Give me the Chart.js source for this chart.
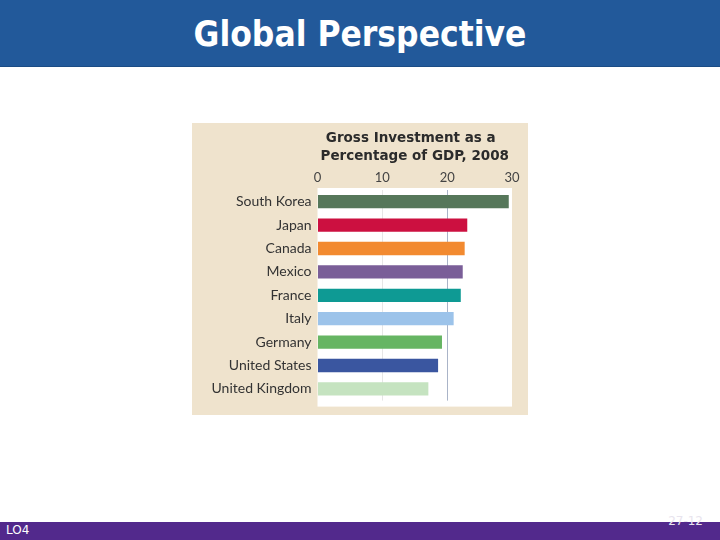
<!DOCTYPE html>
<html>
<head>
<meta charset="utf-8">
<script src="https://cdn.jsdelivr.net/npm/chart.js@4/dist/chart.umd.min.js"></script>
<style>
  html, body { margin: 0; padding: 0; width: 720px; height: 540px; background: #ffffff; overflow: hidden; }
  #header { position: absolute; left: 0; top: 0; width: 720px; height: 66px; background: #22599a; border-bottom: 1px solid #1b4c85; }
  #header h1 { margin: 0; position: absolute; left: 0; width: 720px; top: 13px; text-align: center;
    font-family: "DejaVu Sans Condensed", "DejaVu Sans", sans-serif; font-weight: bold; font-size: 35px; line-height: 42px; color: #ffffff; }
  #footer { position: absolute; left: 0; top: 522px; width: 720px; height: 18px; background: #52298c; }
  #lo { position: absolute; left: 6px; top: 523px; font-family: "DejaVu Sans", sans-serif; font-size: 12px; color: #ffffff; }
  #pg { position: absolute; right: 17px; top: 514px; font-family: "DejaVu Sans", sans-serif; font-size: 12px; color: #e8e4ee; }
  #panel { position: absolute; left: 192px; top: 123px; width: 336px; height: 292px; background: #efe3cd; }
</style>
</head>
<body>
<div id="header"><h1>Global Perspective</h1></div>
<div id="panel"><canvas id="investChart" width="336" height="292"></canvas></div>
<div id="footer"></div>
<div id="lo">LO4</div>
<div id="pg">27-12</div>
<script>
const countries = ['South Korea', 'Japan', 'Canada', 'Mexico', 'France', 'Italy', 'Germany', 'United States', 'United Kingdom'];
const investPct = [29.5, 23.1, 22.7, 22.4, 22.1, 21.0, 19.2, 18.6, 17.1];
const barColors = ['#56775a', '#cc1040', '#f28a30', '#7a5e98', '#0e9a94', '#9cc3ea', '#66b563', '#3a56a0', '#c5e3c0'];
const titleLines = ['Gross Investment as a', 'Percentage of GDP, 2008'];
const xTicks = [0, 10, 20, 30];

// fond blanc de la zone de tracé + titre centré sur la zone
const panelPlugin = {
    id: 'panelPlugin',
    beforeDraw(chart) {
        const { ctx, chartArea } = chart;
        ctx.save();
        ctx.fillStyle = '#ffffff';
        ctx.fillRect(chartArea.left, chartArea.top - 2, chartArea.right - chartArea.left, chartArea.bottom - chartArea.top + 8);
        ctx.restore();
    },
    afterDraw(chart) {
        const { ctx, chartArea } = chart;
        const cx = (chartArea.left + chartArea.right) / 2;
        ctx.save();
        ctx.fillStyle = '#2b2b2b';
        ctx.font = 'bold 13.5px "DejaVu Sans", sans-serif';
        ctx.textAlign = 'center';
        ctx.textBaseline = 'middle';
        titleLines.forEach((line, i) => ctx.fillText(line, cx - (i === 0 ? 4 : 0), 15.5 + i * 18));
        ctx.restore();
    }
};

const ctx = document.getElementById('investChart').getContext('2d');
new Chart(ctx, {
    type: 'bar',
    data: {
        labels: countries,
        datasets: [{
            data: investPct,
            backgroundColor: barColors,
            borderWidth: 0,
            barPercentage: 0.57,
            categoryPercentage: 1
        }]
    },
    options: {
        indexAxis: 'y',
        responsive: false,
        animation: false,
        layout: { padding: { top: 45, right: 16, bottom: 11, left: 0 } },
        plugins: {
            legend: { display: false },
            title: { display: false },
            tooltip: { enabled: false }
        },
        scales: {
            x: {
                position: 'top',
                min: 0,
                max: 30,
                afterBuildTicks: (scale) => { scale.ticks = xTicks.map(v => ({ value: v })); },
                afterFit: (scale) => { scale.height = 22; },
                border: { display: false },
                grid: {
                    drawTicks: false,
                    color: (c) => c.tick && c.tick.value === 20 ? '#aab4c8' : (c.tick && c.tick.value === 10 ? '#e6e6e6' : 'rgba(0,0,0,0)')
                },
                ticks: { padding: 4, color: '#444444', font: { family: 'Lato, sans-serif', size: 13 } }
            },
            y: {
                afterFit: (scale) => { scale.width = 125.5; },
                border: { display: false },
                grid: { display: false, drawTicks: false },
                ticks: { padding: 6, color: '#333333', font: { family: 'Lato, sans-serif', size: 14 } }
            }
        }
    },
    plugins: [panelPlugin]
});
</script>
</body>
</html>
